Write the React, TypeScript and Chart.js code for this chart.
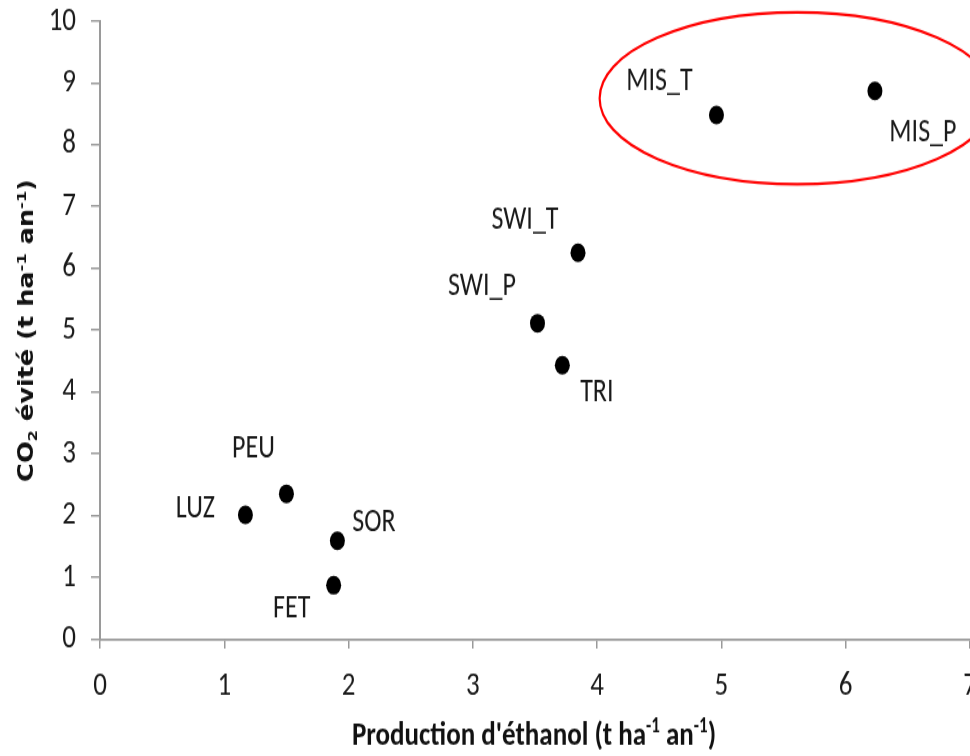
import React, { useEffect, useRef } from "react";
import { Chart, registerables } from "chart.js";

Chart.register(...registerables);

// ---- data ----
const cropNames = ["MIS_T", "MIS_P", "SWI_T", "SWI_P", "TRI", "PEU", "LUZ", "SOR", "FET"];
const ethanolProduction = [4.96, 6.235, 3.846, 3.52, 3.72, 1.5, 1.17, 1.91, 1.88];
const co2Avoided = [8.48, 8.87, 6.25, 5.11, 4.43, 2.35, 2.01, 1.59, 0.87];
const xTicks = [0, 1, 2, 3, 4, 5, 6, 7];
const yTicks = [0, 1, 2, 3, 4, 5, 6, 7, 8, 9, 10];
// highlight ellipse around the miscanthus group (data units)
const ellipseCenter = { x: 5.61, y: 8.75 };
const ellipseRadii = { x: 1.59, y: 1.39 };

// ---- style / layout ----
// label offsets in (internal) pixels from their point
const labelOffsets: [number, number][] = [
  [-57, -26.4],
  [48, 34],
  [-53, -26],
  [-55.5, -29.2],
  [34.5, 22],
  [-33, -35.6],
  [-50, -4],
  [36.5, -14],
  [-42, 18.8],
];

const CAL = 'Carlito, "Liberation Sans", sans-serif';
const WIDE = '"DejaVu Sans", Verdana, sans-serif';
const W = 1000; // internal canvas width
const H = 605; // internal canvas height (displayed stretched to 756 like the reference)

type Seg = { t: string; sup?: boolean; sub?: boolean };

function drawRich(ctx: CanvasRenderingContext2D, segs: Seg[], size: number, family: string, weight: string, supScale = 0.62) {
  const small = Math.round(size * supScale);
  const widths = segs.map((s) => {
    ctx.font = `${weight} ${s.sup || s.sub ? small : size}px ${family}`;
    return ctx.measureText(s.t).width;
  });
  const total = widths.reduce((a, b) => a + b, 0);
  let x = -total / 2;
  ctx.textBaseline = "alphabetic";
  ctx.textAlign = "left";
  segs.forEach((s, i) => {
    ctx.font = `${weight} ${s.sup || s.sub ? small : size}px ${family}`;
    const dy = s.sup ? -size * 0.36 : s.sub ? size * 0.2 : 0;
    ctx.fillText(s.t, x, dy);
    x += widths[i];
  });
}

const xTitle: Seg[] = [
  { t: "Production d'éthanol (t ha" },
  { t: "-1", sup: true },
  { t: " an" },
  { t: "-1", sup: true },
  { t: ")" },
];
const yTitle: Seg[] = [
  { t: "CO" },
  { t: "2", sub: true },
  { t: " évité (t ha" },
  { t: "-1", sup: true },
  { t: " an" },
  { t: "-1", sup: true },
  { t: ")" },
];

const overlayPlugin = {
  id: "overlay",
  afterDatasetsDraw(chart: any) {
    const ctx: CanvasRenderingContext2D = chart.ctx;
    const xs = chart.scales.x;
    const ys = chart.scales.y;
    ctx.save();
    // point labels
    ctx.fillStyle = "#1a1a1a";
    ctx.font = `26px ${CAL}`;
    ctx.textAlign = "center";
    ctx.textBaseline = "middle";
    cropNames.forEach((name, i) => {
      const px = xs.getPixelForValue(ethanolProduction[i]);
      const py = ys.getPixelForValue(co2Avoided[i]);
      ctx.fillText(name, px + labelOffsets[i][0], py + labelOffsets[i][1]);
    });
    // ellipse
    const cx = xs.getPixelForValue(ellipseCenter.x);
    const cy = ys.getPixelForValue(ellipseCenter.y);
    const rx = Math.abs(xs.getPixelForValue(ellipseCenter.x + ellipseRadii.x) - cx);
    const ry = Math.abs(ys.getPixelForValue(ellipseCenter.y + ellipseRadii.y) - cy);
    ctx.strokeStyle = "#ff0000";
    ctx.lineWidth = 2.2;
    ctx.beginPath();
    ctx.ellipse(cx, cy, rx, ry, 0, 0, Math.PI * 2);
    ctx.stroke();
    // axis titles
    ctx.fillStyle = "#111";
    ctx.save();
    ctx.translate(534, 596);
    drawRich(ctx, xTitle, 27, CAL, "bold");
    ctx.restore();
    ctx.save();
    ctx.translate(33, 264.5);
    ctx.rotate(-Math.PI / 2);
    drawRich(ctx, yTitle, 20.5, WIDE, "bold");
    ctx.restore();
    ctx.restore();
  },
};

export default function App() {
  const ref = useRef<HTMLCanvasElement | null>(null);
  useEffect(() => {
    const canvas = ref.current!;
    const chart = new Chart(canvas, {
      type: "scatter",
      data: {
        datasets: [
          {
            data: ethanolProduction.map((x, i) => ({ x, y: co2Avoided[i] })),
            pointStyle: "circle",
            pointRadius: 7.5,
            backgroundColor: "#000",
            borderColor: "#000",
            borderWidth: 0,
          },
        ],
      },
      options: {
        responsive: false,
        animation: false,
        devicePixelRatio: 1,
        events: [],
        layout: { padding: { top: 16.8, right: 30, left: 0, bottom: 0 } },
        plugins: { legend: { display: false }, tooltip: { enabled: false } },
        scales: {
          x: {
            type: "linear",
            min: 0,
            max: 7,
            afterBuildTicks: (s: any) => {
              s.ticks = xTicks.map((v) => ({ value: v }));
            },
            afterFit: (s: any) => {
              s.height = 93.6;
              s.paddingLeft = 0;
              s.paddingRight = 0;
            },
            grid: {
              drawOnChartArea: false,
              drawTicks: true,
              tickLength: 7.5,
              color: "#9a9a9a",
              lineWidth: 1.5,
            },
            border: { color: "#9a9a9a", width: 1.8 },
            ticks: {
              color: "#1a1a1a",
              font: { size: 27, family: CAL },
              padding: 14,
              maxRotation: 0,
            },
          },
          y: {
            type: "linear",
            min: 0,
            max: 10,
            afterBuildTicks: (s: any) => {
              s.ticks = yTicks.map((v) => ({ value: v }));
            },
            afterFit: (s: any) => {
              s.width = 100;
              s.paddingTop = 0;
              s.paddingBottom = 0;
            },
            grid: {
              drawOnChartArea: false,
              drawTicks: true,
              tickLength: 9,
              color: "#9a9a9a",
              lineWidth: 1.5,
            },
            border: { color: "#9a9a9a", width: 2 },
            ticks: {
              color: "#1a1a1a",
              font: { size: 27, family: CAL },
              padding: 15,
            },
          },
        },
      },
      plugins: [overlayPlugin],
    });
    return () => chart.destroy();
  }, []);
  return (
    <div
      style={{
        position: "fixed",
        left: 0,
        top: 0,
        width: 970,
        height: 756,
        overflow: "hidden",
        background: "#fff",
      }}
    >
      <canvas ref={ref} width={W} height={H} style={{ width: W, height: 756, display: "block" }} />
    </div>
  );
}
